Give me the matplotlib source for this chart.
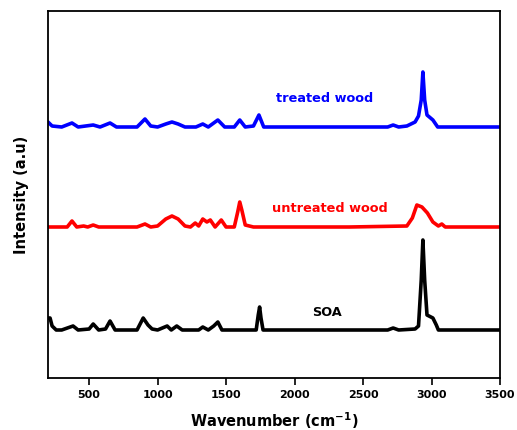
import matplotlib
matplotlib.use("Agg")
import matplotlib.pyplot as plt

# Wavenumber (cm^-1) and intensity (a.u., offset traces)
treated_wn = [200, 230, 300, 375, 420, 530, 580, 653, 700, 850, 908, 950, 1000, 1060, 1105, 1150,
              1200, 1280, 1330, 1370, 1440, 1490, 1560, 1600, 1640, 1700, 1740, 1775, 2000, 2680,
              2720, 2760, 2820, 2880, 2905, 2925, 2937, 2950, 2967, 3010, 3045, 3500]
treated_int = [256, 252, 251, 255, 251, 253, 251, 255, 251, 251, 259, 252, 251, 254, 256, 254,
               251, 251, 254, 251, 258, 251, 251, 258, 251, 252, 263, 251, 251, 251,
               253, 251, 252, 256, 262, 278, 306, 278, 263, 258, 251, 251]

untreated_wn = [200, 340, 375, 410, 460, 490, 530, 570, 850, 908, 950, 1000, 1060, 1105, 1150, 1200,
                1240, 1275, 1300, 1330, 1360, 1385, 1420, 1465, 1500, 1560, 1585, 1600, 1615, 1640,
                1670, 1700, 2400, 2820, 2860, 2893, 2930, 2970, 3010, 3050, 3075, 3100, 3500]
untreated_int = [151, 151, 157, 151, 152, 151, 153, 151, 151, 154, 151, 152, 159, 162, 159, 152,
                 151, 155, 152, 159, 156, 158, 151, 158, 151, 151, 166, 176, 168, 153,
                 152, 151, 151, 152, 160, 173, 171, 165, 156, 152, 154, 151, 151]

soa_wn = [200, 215, 230, 260, 300, 383, 420, 500, 530, 570, 620, 653, 690, 850, 880, 895, 910, 930,
          960, 1000, 1070, 1100, 1140, 1180, 1300, 1330, 1370, 1410, 1440, 1470, 1720, 1735, 1745,
          1755, 1770, 2680, 2720, 2760, 2880, 2905, 2925, 2937, 2950, 2967, 3010, 3035, 3050, 3500]
soa_int = [60, 60, 52, 48, 48, 52, 48, 49, 54, 48, 49, 57, 48, 48, 56, 60, 57, 53,
           49, 48, 52, 48, 52, 48, 48, 51, 48, 52, 56, 48, 48, 63, 71,
           60, 48, 48, 50, 48, 49, 52, 98, 138, 98, 63, 60, 53, 48, 48]

series_labels = ["treated wood", "untreated wood", "SOA"]
series_colors = ["#0000ff", "#ff0000", "#000000"]
xticks = [500, 1000, 1500, 2000, 2500, 3000, 3500]

fig = plt.figure(figsize=(5.17, 4.30), dpi=100)
ax = fig.add_axes([48/517, 52/430, 452/517, 367/430])

for wn, inten, c in [(treated_wn, treated_int, series_colors[0]),
                     (untreated_wn, untreated_int, series_colors[1]),
                     (soa_wn, soa_int, series_colors[2])]:
    ax.plot(wn, inten, color=c, lw=2.6, solid_joinstyle="round", solid_capstyle="round")

ax.text(2222, 279, series_labels[0], color=series_colors[0], fontsize=9.3, fontweight="bold",
        ha="center", va="center")
ax.text(2259, 169, series_labels[1], color=series_colors[1], fontsize=9.3, fontweight="bold",
        ha="center", va="center")
ax.text(2237, 65, series_labels[2], color=series_colors[2], fontsize=9.3, fontweight="bold",
        ha="center", va="center")

ax.set_xlim(200, 3500)
ax.set_ylim(0, 367)
ax.set_xticks(xticks)
ax.set_xticklabels([str(t) for t in xticks], fontsize=8, fontweight="bold")
ax.set_yticks([])
ax.tick_params(axis="x", direction="out", length=5, width=1.2, pad=4)
for s in ax.spines.values():
    s.set_linewidth(1.3)

ax.set_xlabel("Wavenumber (cm$^{\\mathbf{-1}}$)", fontsize=10.5, fontweight="bold", labelpad=7)
ax.set_ylabel("Intensity (a.u)", fontsize=10.5, fontweight="bold", labelpad=14)

fig.savefig("out.png", dpi=100)
